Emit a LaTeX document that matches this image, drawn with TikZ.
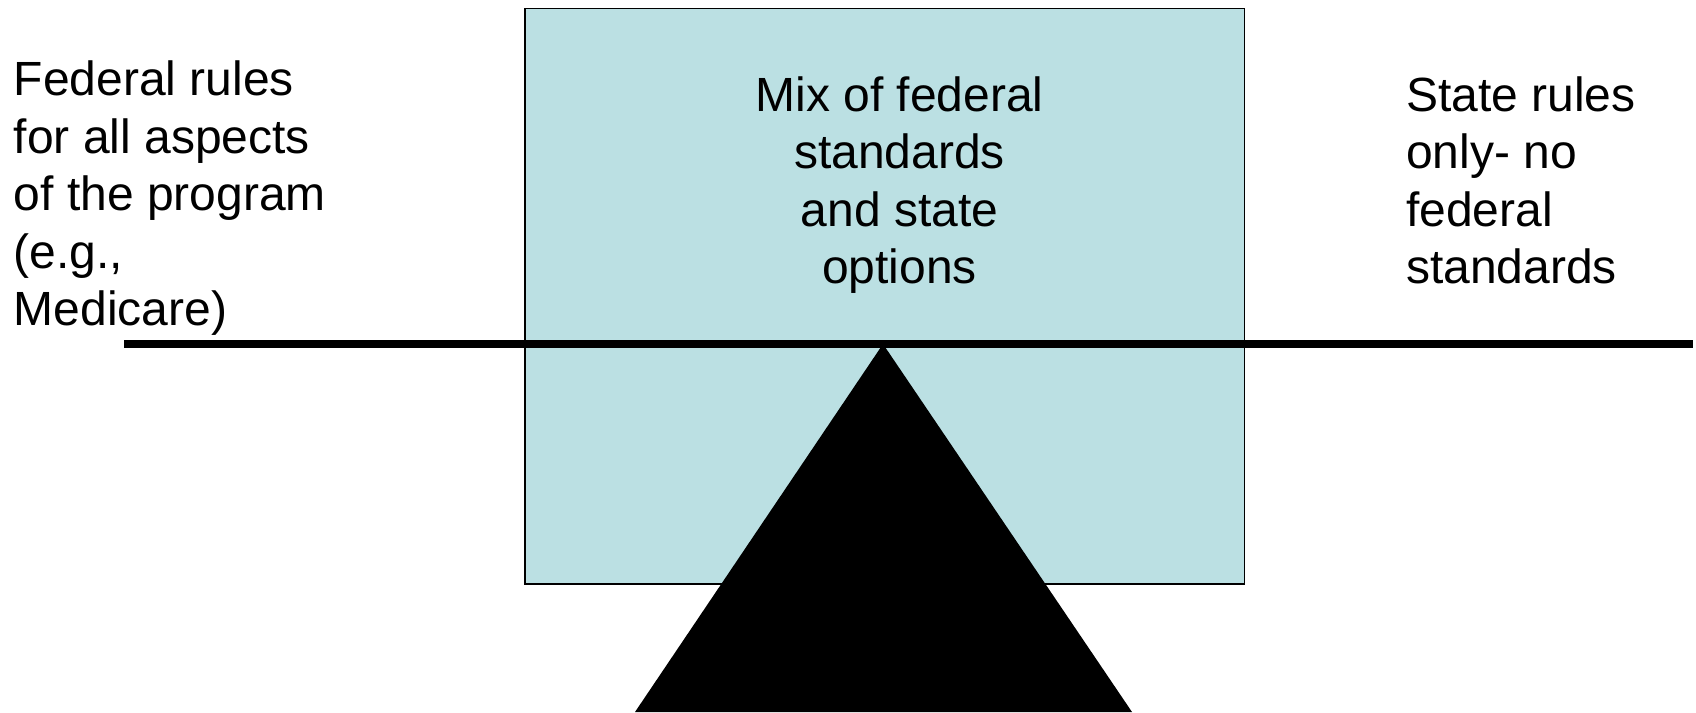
\documentclass[tikz,border=0pt]{standalone}
\usepackage{fontspec}
\setmainfont{Liberation Sans}
\definecolor{panelblue}{RGB}{187,224,227}
\begin{document}
\begin{tikzpicture}[x=1pt,y=-1pt,
  label/.style={inner sep=0pt, font=\fontsize{48}{57.5}\selectfont},
  panel/.style={draw=black, line width=1.8pt, fill=panelblue, inner sep=0pt},
  beam/.style={line width=7.5pt}]
  \useasboundingbox (0,0) rectangle (1696,712);
  % central panel
  \node[panel, anchor=north west, minimum width=719.5pt, minimum height=575.5pt] (panel) at (524,7.5) {};
  % fulcrum
  \coordinate (apex) at (883,344);
  \coordinate (baseL) at (635,712);
  \coordinate (baseR) at (1132,712);
  \fill[black] (baseL) -- (apex) -- (baseR) -- cycle;
  % lever beam
  \coordinate (beamL) at (124,344);
  \coordinate (beamR) at (1693,344);
  \draw[beam] (beamL) -- (beamR);
  % texts (anchored on the baseline of their last line)
  \node[label, anchor=base west, align=left] (fed) at (13.5,325.7)
    {Federal rules\\for all aspects\\of the program\\(e.g.,\\Medicare)};
  \node[label, anchor=base, align=center] (mix) at (899.5,283.5)
    {Mix of federal\\standards\\and state\\options};
  \node[label, anchor=base west, align=left] (state) at (1406,283.5)
    {State rules\\only- no\\federal\\standards};
\end{tikzpicture}
\end{document}
